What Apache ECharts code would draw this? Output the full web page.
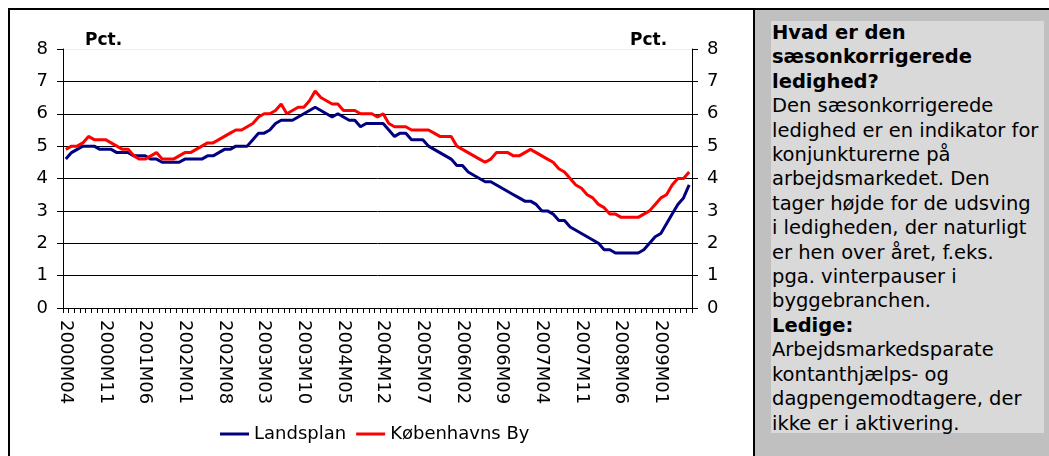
<!DOCTYPE html>
<html>
<head>
<meta charset="utf-8">
<script src="https://cdn.jsdelivr.net/npm/echarts@6/dist/echarts.min.js"></script>
<style>
    body { margin: 0; background: #fff; }
    #wrap { position: relative; width: 1049px; height: 456px; overflow: hidden; background: #fff; }
    #chart { position: absolute; left: 0; top: 0; width: 1049px; height: 456px; }
    #box { position: absolute; left: 8px; top: 8px; width: 760px; height: 460px;
        border-left: 2px solid #000; border-top: 2px solid #000; }
    #panel { position: absolute; left: 753px; top: 8px; width: 300px; height: 460px;
        background: #c0c0c0; border-left: 2px solid #000; border-top: 2px solid #000; }
    #info { position: absolute; left: 771px; top: 21px; width: 273px; height: 412px;
        padding-left: 1px; box-sizing: border-box;
        background: #d9d9d9; font-family: "DejaVu Sans", Verdana, sans-serif;
        font-size: 19.5px; line-height: 24.4px; color: #000; white-space: nowrap; }
    #info b { font-weight: bold; }
</style>
</head>
<body>
<div id="wrap">
    <div id="chart"></div>
    <div id="box"></div>
    <div id="panel"></div>
    <div id="info"><b>Hvad er den<br>sæsonkorrigerede<br>ledighed?</b><br>Den sæsonkorrigerede<br>ledighed er en indikator for<br>konjunkturerne på<br>arbejdsmarkedet. Den<br>tager højde for de udsving<br>i ledigheden, der naturligt<br>er hen over året, f.eks.<br>pga. vinterpauser i<br>byggebranchen.<br><b>Ledige:</b><br>Arbejdsmarkedsparate<br>kontanthjælps- og<br>dagpengemodtagere, der<br>ikke er i aktivering.</div>
</div>
<script>
    // måneder 2000M04 - 2009M06
    var startYear = 2000, startMonth = 4, monthCount = 111;
    var months = [];
    for (var i = 0; i < monthCount; i++) {
        var m = startMonth - 1 + i;
        var y = startYear + Math.floor(m / 12);
        var mm = (m % 12) + 1;
        months.push(y + 'M' + (mm < 10 ? '0' + mm : mm));
    }

    var seriesNames = ['Landsplan', 'Københavns By'];

    // sæsonkorrigeret ledighed, pct.
    var landsplan = [
        4.6, 4.8, 4.9, 5.0, 5.0, 5.0, 4.9, 4.9, 4.9, 4.8,
        4.8, 4.8, 4.7, 4.7, 4.7, 4.6, 4.6, 4.5, 4.5, 4.5,
        4.5, 4.6, 4.6, 4.6, 4.6, 4.7, 4.7, 4.8, 4.9, 4.9,
        5.0, 5.0, 5.0, 5.2, 5.4, 5.4, 5.5, 5.7, 5.8, 5.8,
        5.8, 5.9, 6.0, 6.1, 6.2, 6.1, 6.0, 5.9, 6.0, 5.9,
        5.8, 5.8, 5.6, 5.7, 5.7, 5.7, 5.7, 5.5, 5.3, 5.4,
        5.4, 5.2, 5.2, 5.2, 5.0, 4.9, 4.8, 4.7, 4.6, 4.4,
        4.4, 4.2, 4.1, 4.0, 3.9, 3.9, 3.8, 3.7, 3.6, 3.5,
        3.4, 3.3, 3.3, 3.2, 3.0, 3.0, 2.9, 2.7, 2.7, 2.5,
        2.4, 2.3, 2.2, 2.1, 2.0, 1.8, 1.8, 1.7, 1.7, 1.7,
        1.7, 1.7, 1.8, 2.0, 2.2, 2.3, 2.6, 2.9, 3.2, 3.4,
        3.8
    ];
    var kobenhavn = [
        4.9, 5.0, 5.0, 5.1, 5.3, 5.2, 5.2, 5.2, 5.1, 5.0,
        4.9, 4.9, 4.7, 4.6, 4.6, 4.7, 4.8, 4.6, 4.6, 4.6,
        4.7, 4.8, 4.8, 4.9, 5.0, 5.1, 5.1, 5.2, 5.3, 5.4,
        5.5, 5.5, 5.6, 5.7, 5.9, 6.0, 6.0, 6.1, 6.3, 6.0,
        6.1, 6.2, 6.2, 6.4, 6.7, 6.5, 6.4, 6.3, 6.3, 6.1,
        6.1, 6.1, 6.0, 6.0, 6.0, 5.9, 6.0, 5.7, 5.6, 5.6,
        5.6, 5.5, 5.5, 5.5, 5.5, 5.4, 5.3, 5.3, 5.3, 5.0,
        4.9, 4.8, 4.7, 4.6, 4.5, 4.6, 4.8, 4.8, 4.8, 4.7,
        4.7, 4.8, 4.9, 4.8, 4.7, 4.6, 4.5, 4.3, 4.2, 4.0,
        3.8, 3.7, 3.5, 3.4, 3.2, 3.1, 2.9, 2.9, 2.8, 2.8,
        2.8, 2.8, 2.9, 3.0, 3.2, 3.4, 3.5, 3.8, 4.0, 4.0,
        4.2
    ];

    var font = 'DejaVu Sans';
    var chart = echarts.init(document.getElementById('chart'));

    // y-akse (venstre og højre er ens)
    function yAxis(pos, withGrid) {
        return {
            type: 'value',
            position: pos,
            min: 0,
            max: 8,
            interval: 1,
            axisLine: {show: true, lineStyle: {color: '#000', width: 1}},
            axisTick: {show: true, length: 6, lineStyle: {color: '#000'}},
            axisLabel: {color: '#000', fontSize: 18, fontFamily: font, margin: 15},
            splitLine: {
                show: withGrid,
                lineStyle: {
                    color: ['#000', '#000', '#000', '#000', '#000', '#000', '#000', '#000', '#eeeeee'],
                    width: 1
                }
            }
        };
    }

    chart.setOption({
        animation: false,
        color: ['#000080', '#ff0000'],
        grid: {left: 63, top: 49, width: 629, height: 259},
        legend: {
            data: seriesNames,
            left: 215,
            top: 420,
            icon: 'rect',
            itemWidth: 29,
            itemHeight: 3,
            itemGap: 10,
            textStyle: {color: '#000', fontSize: 18, fontFamily: font}
        },
        graphic: [
            {type: 'text', left: 85, top: 32, style: {text: 'Pct.', font: 'bold 17px "DejaVu Sans"', fill: '#000'}},
            {type: 'text', left: 630, top: 32, style: {text: 'Pct.', font: 'bold 17px "DejaVu Sans"', fill: '#000'}}
        ],
        xAxis: {
            type: 'category',
            data: months,
            boundaryGap: true,
            axisLine: {lineStyle: {color: '#000'}},
            axisTick: {show: true, interval: 0, length: 5, lineStyle: {color: '#000'}},
            axisLabel: {interval: 6, rotate: -90, color: '#000', fontSize: 18, fontFamily: font, margin: 12}
        },
        yAxis: [yAxis('left', true), yAxis('right', false)],
        series: [
            {
                name: seriesNames[0],
                type: 'line',
                data: landsplan,
                symbol: 'none',
                lineStyle: {width: 3}
            },
            {
                name: seriesNames[1],
                type: 'line',
                data: kobenhavn,
                symbol: 'none',
                lineStyle: {width: 3}
            }
        ]
    });
</script>
</body>
</html>
